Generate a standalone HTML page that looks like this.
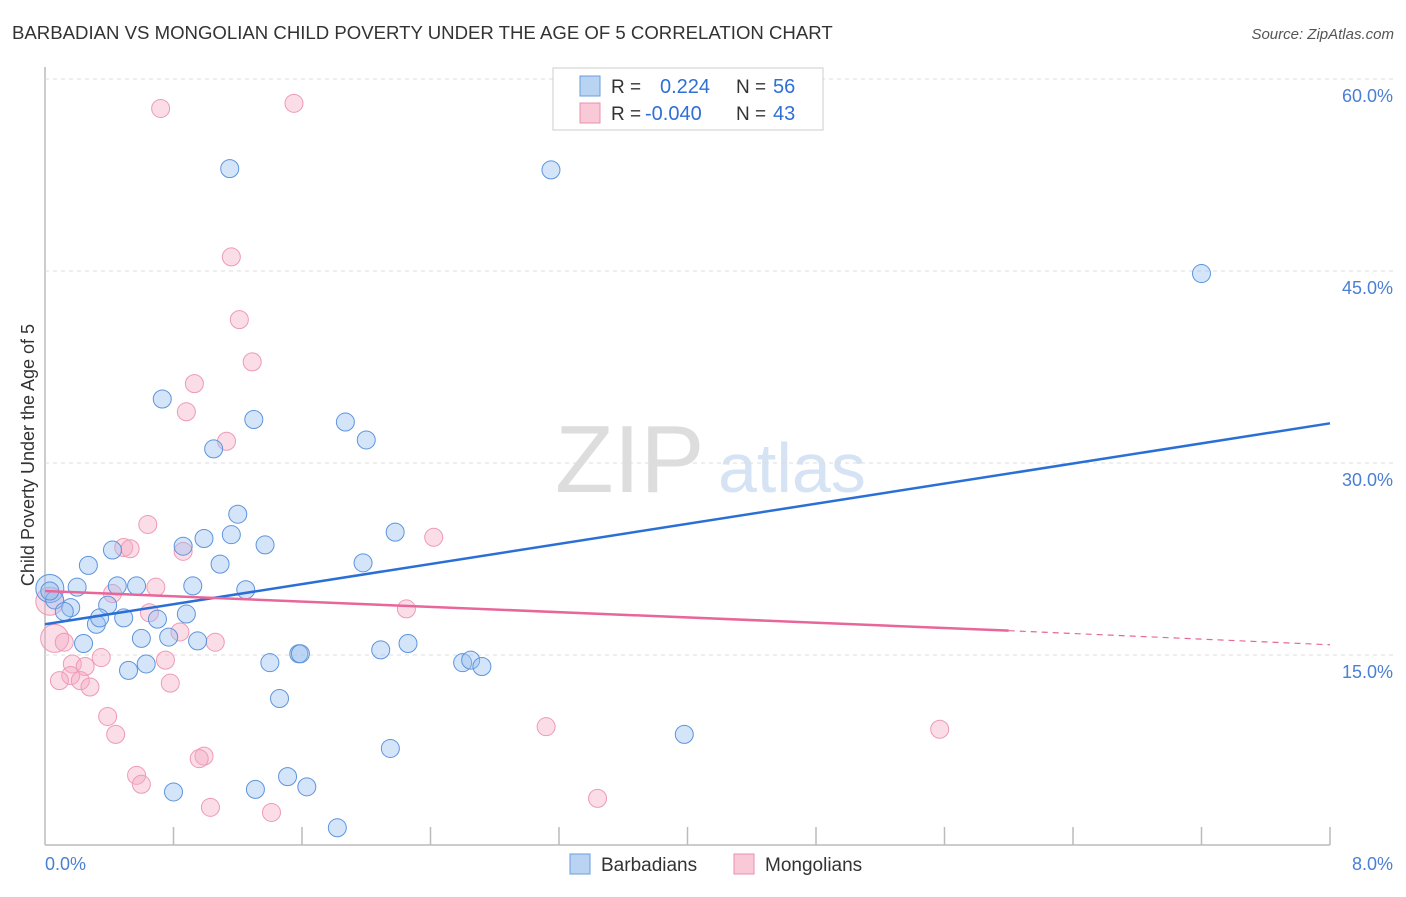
<!DOCTYPE html>
<html><head><meta charset="utf-8"><style>
body{margin:0;background:#fff;font-family:"Liberation Sans",sans-serif}
svg text{font-family:"Liberation Sans",sans-serif}
</style></head><body>
<svg id="c" width="1406" height="892" xmlns="http://www.w3.org/2000/svg">
<text x="12" y="39" font-size="18.6" fill="#333">BARBADIAN VS MONGOLIAN CHILD POVERTY UNDER THE AGE OF 5 CORRELATION CHART</text>
<text x="1394" y="39" font-size="15" fill="#555" text-anchor="end" font-style="italic">Source: ZipAtlas.com</text>
<text x="555" y="492" font-size="96" fill="#ddd" font-family="Liberation Serif">ZIP</text>
<text x="718" y="492" font-size="70" fill="#d5e3f5">atlas</text>
<text transform="translate(34,455) rotate(-90)" font-size="18" fill="#333" text-anchor="middle">Child Poverty Under the Age of 5</text>
<g id="grid"></g><g id="pts"></g><g id="lines"></g>
<g>
<rect x="553" y="68" width="270" height="62" fill="#fff" stroke="#ccc"/>
<rect x="580" y="76" width="20" height="20" fill="#b9d3f3" stroke="#6a9de0"/>
<rect x="580" y="103" width="20" height="20" fill="#f9c9d7" stroke="#e891ad"/>
<text x="611" y="93" font-size="19" fill="#333">R = </text><text x="660" y="93" font-size="20" fill="#2f6fd6">0.224</text>
<text x="736" y="93" font-size="19" fill="#333">N = </text><text x="773" y="93" font-size="20" fill="#2f6fd6">56</text>
<text x="611" y="120" font-size="19" fill="#333">R = </text><text x="645" y="120" font-size="20" fill="#2f6fd6">-0.040</text>
<text x="736" y="120" font-size="19" fill="#333">N = </text><text x="773" y="120" font-size="20" fill="#2f6fd6">43</text>
</g>
<g>
<rect x="570" y="854" width="20" height="20" fill="#b9d3f3" stroke="#6a9de0"/>
<text x="601" y="871" font-size="19" fill="#333">Barbadians</text>
<rect x="734" y="854" width="20" height="20" fill="#f9c9d7" stroke="#e891ad"/>
<text x="765" y="871" font-size="19" fill="#333">Mongolians</text>
</g>
</svg>
<script>
const yTicks=[15,30,45,60];
const yTickLabels=["15.0%","30.0%","45.0%","60.0%"];
const xTicks=[0,0.8,1.6,2.4,3.2,4.0,4.8,5.6,6.4,7.2,8.0];
const blueX=[1.15,3.15,7.2,0.73,1.3,1.87,2.0,1.05,1.2,2.18,0.86,0.99,1.16,1.37,0.42,0.27,1.09,1.98,0.2,0.45,0.57,0.92,1.25,0.03,0.06,0.16,0.39,0.12,0.32,0.34,0.49,0.7,0.88,0.24,0.6,0.77,0.95,2.26,2.09,1.58,1.59,1.4,0.63,0.52,2.6,2.65,2.72,1.46,2.15,3.98,1.51,1.63,0.8,1.31,1.82,0.03];
const blueY=[53.0,52.9,44.8,35.0,33.4,33.2,31.8,31.1,26.0,24.6,23.5,24.1,24.4,23.6,23.2,22.0,22.1,22.2,20.3,20.4,20.4,20.4,20.1,20.2,19.3,18.7,18.9,18.4,17.4,17.9,17.9,17.8,18.2,15.9,16.3,16.4,16.1,15.9,15.4,15.1,15.1,14.4,14.3,13.8,14.4,14.6,14.1,11.6,7.7,8.8,5.5,4.7,4.3,4.5,1.5,20.0];
const pinkX=[0.72,1.55,1.16,1.21,1.29,0.93,0.88,1.13,0.64,0.49,0.53,0.86,2.42,0.69,0.42,2.25,0.65,0.03,0.84,0.06,0.12,1.06,0.35,0.17,0.25,0.75,0.16,0.22,0.09,0.78,0.28,0.39,0.44,3.12,5.57,0.99,0.96,0.57,0.6,1.03,1.41,3.44];
const pinkY=[57.7,58.1,46.1,41.2,37.9,36.2,34.0,31.7,25.2,23.4,23.3,23.1,24.2,20.3,19.8,18.6,18.3,19.2,16.8,16.3,16.0,16.0,14.8,14.3,14.1,14.6,13.4,13.0,13.0,12.8,12.5,10.2,8.8,9.4,9.2,7.1,6.9,5.6,4.9,3.1,2.7,3.8];
const pinkR=[9,9,9,9,9,9,9,9,9,9,9,9,9,9,9,9,9,14,9,14,9,9,9,9,9,9,9,9,9,9,9,9,9,9,9,9,9,9,9,9,9,9];
const blueTrend=[[0,17.4],[8,33.1]];
const pinkTrend=[[0,20.0],[6,16.9],[8,15.8]];
const X=v=>45+v/8*1285, Y=v=>847-v/15*192;
const NS="http://www.w3.org/2000/svg";
function mk(p,t,a){const e=document.createElementNS(NS,t);for(const k in a)e.setAttribute(k,a[k]);p.appendChild(e);return e;}
const g=document.getElementById('grid');
mk(g,'line',{x1:45,y1:67,x2:45,y2:845,stroke:'#bbb','stroke-width':1.5});
mk(g,'line',{x1:45,y1:845,x2:1330,y2:845,stroke:'#bbb','stroke-width':1.5});
yTicks.forEach((t,i)=>{
 const l=mk(g,'line',{x1:45,y1:Y(t),x2:1394,y2:Y(t),stroke:'#ddd','stroke-dasharray':'4,4'});
 
 
 const tx=mk(g,'text',{x:1393,y:Y(t)+23,'font-size':18,fill:'#4a7fd4','text-anchor':'end'});tx.textContent=yTickLabels[i];
 
 
});
xTicks.forEach(t=>{if(t>0){const l=mk(g,'line',{x1:X(t),y1:827,x2:X(t),y2:845,stroke:'#bbb','stroke-width':1.5});
 
 }});
const x0=mk(g,'text',{x:45,y:870,'font-size':18,fill:'#4a7fd4'});x0.textContent='0.0%';


const x8=mk(g,'text',{x:1393,y:870,'font-size':18,fill:'#4a7fd4','text-anchor':'end'});x8.textContent='8.0%';


const P=document.getElementById('pts');
pinkX.forEach((v,i)=>{const c=mk(P,'circle',{cx:X(v),cy:Y(pinkY[i]),r:pinkR[i],fill:'rgba(246,170,195,0.4)',stroke:'#ee9ab5','stroke-width':1});
 
 });
blueX.forEach((v,i)=>{const c=mk(P,'circle',{cx:X(v),cy:Y(blueY[i]),r:i==23?14:9,fill:'rgba(150,190,240,0.4)',stroke:'#5d94dd','stroke-width':1});
 
 });
const L=document.getElementById('lines');
const bl=mk(L,'line',{x1:X(blueTrend[0][0]),y1:Y(blueTrend[0][1]),x2:X(blueTrend[1][0]),y2:Y(blueTrend[1][1]),stroke:'#2a6fd6','stroke-width':2.5});


const pl=mk(L,'line',{x1:X(pinkTrend[0][0]),y1:Y(pinkTrend[0][1]),x2:X(pinkTrend[1][0]),y2:Y(pinkTrend[1][1]),stroke:'#e8679a','stroke-width':2.5});


const pd=mk(L,'line',{x1:X(pinkTrend[1][0]),y1:Y(pinkTrend[1][1]),x2:X(pinkTrend[2][0]),y2:Y(pinkTrend[2][1]),stroke:'#e8679a','stroke-width':1.2,'stroke-dasharray':'6,5'});


</script>
</body></html>
